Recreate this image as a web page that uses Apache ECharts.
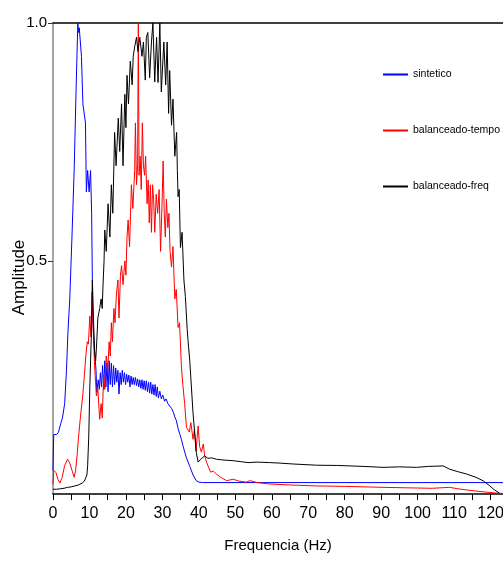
<!DOCTYPE html>
<html>
<head>
<meta charset="utf-8">
<script src="https://cdn.jsdelivr.net/npm/echarts@6/dist/echarts.min.js"></script>
<style>
  html, body { margin: 0; padding: 0; background: #fff; }
  #chart { width: 503px; height: 562px; }
</style>
</head>
<body>
<div id="chart"></div>
<script>
// [frequencia (Hz), amplitude]
var sintetico = [
  [0, 0.06], [0.2, 0.135], [1, 0.135], [1.5, 0.14], [2.2, 0.16], [2.6, 0.17], [3.2, 0.2],
  [3.7, 0.27], [4.1, 0.35], [4.6, 0.42], [5.2, 0.55], [5.8, 0.69], [6.3, 0.85], [6.8, 1.0],
  [7.0, 0.98], [7.2, 0.99], [7.5, 0.96], [7.8, 0.93], [8.2, 0.83], [8.9, 0.79], [9.15, 0.645],
  [9.5, 0.69], [9.9, 0.645], [10.3, 0.69], [10.6, 0.6], [10.9, 0.377], [11.4, 0.31], [11.8, 0.27],
  [12.0, 0.224], [12.4, 0.25], [12.7, 0.23], [13.0, 0.265], [13.3, 0.235], [13.6, 0.28],
  [13.9, 0.23], [14.2, 0.29], [14.5, 0.235], [14.8, 0.285], [15.1, 0.225], [15.4, 0.29],
  [15.7, 0.24], [16.0, 0.285], [16.3, 0.235], [16.6, 0.28], [16.9, 0.24], [17.2, 0.275],
  [17.5, 0.245], [17.8, 0.27], [18.1, 0.22], [18.4, 0.265], [18.7, 0.24], [19.0, 0.27],
  [19.3, 0.245], [19.6, 0.265], [19.9, 0.24], [20.2, 0.262], [20.5, 0.245], [20.8, 0.26],
  [21.1, 0.235], [21.4, 0.258], [21.7, 0.24], [22.0, 0.255], [22.3, 0.24], [22.6, 0.255],
  [22.9, 0.238], [23.2, 0.252], [23.5, 0.235], [23.8, 0.25], [24.1, 0.232], [24.4, 0.25],
  [24.7, 0.23], [25.0, 0.248], [25.3, 0.228], [25.6, 0.248], [25.9, 0.225], [26.2, 0.245],
  [26.5, 0.222], [26.8, 0.245], [27.1, 0.22], [27.4, 0.24], [27.7, 0.218], [28.0, 0.24],
  [28.3, 0.215], [28.6, 0.235], [28.9, 0.212], [29.3, 0.226], [29.7, 0.21], [30.1, 0.218],
  [30.6, 0.205], [31.0, 0.21], [31.5, 0.2], [32.0, 0.2], [32.5, 0.19], [33.0, 0.182],
  [33.4, 0.172], [33.8, 0.165], [34.3, 0.148], [34.8, 0.135], [35.2, 0.125], [35.7, 0.11],
  [36.5, 0.088], [37.5, 0.068], [38.4, 0.05], [39.3, 0.038], [40.0, 0.035], [41, 0.034],
  [123.4, 0.034]
];

var balanceadoTempo = [
  [0, 0.03], [0.2, 0.06], [0.8, 0.055], [1.4, 0.04], [1.9, 0.033], [2.5, 0.045], [3.2, 0.07],
  [4.0, 0.083], [4.6, 0.075], [5.2, 0.06], [5.8, 0.045], [6.2, 0.06], [6.6, 0.09], [7.0, 0.13],
  [7.5, 0.17], [8.2, 0.22], [8.6, 0.26], [9.0, 0.3], [9.4, 0.33], [9.7, 0.325], [10.1, 0.384],
  [10.4, 0.34], [10.7, 0.435], [11.0, 0.36], [11.4, 0.28], [11.9, 0.216], [12.3, 0.23],
  [12.8, 0.167], [13.2, 0.2], [13.5, 0.17], [13.9, 0.26], [14.2, 0.23], [14.6, 0.3],
  [15.0, 0.27], [15.4, 0.33], [15.7, 0.3], [16.0, 0.37], [16.3, 0.33], [16.7, 0.4],
  [17.0, 0.37], [17.4, 0.43], [17.8, 0.46], [18.1, 0.38], [18.5, 0.47], [18.8, 0.49],
  [19.2, 0.45], [19.7, 0.5], [20.0, 0.47], [20.3, 0.55], [20.6, 0.586], [21.0, 0.53],
  [21.5, 0.66], [21.9, 0.61], [22.4, 0.69], [22.6, 0.79], [22.9, 0.66], [23.2, 0.7],
  [23.4, 1.0], [23.6, 0.68], [23.9, 0.72], [24.2, 0.65], [24.5, 0.79], [24.8, 0.7],
  [25.1, 0.68], [25.4, 0.72], [25.8, 0.62], [26.1, 0.67], [26.4, 0.58], [26.7, 0.66],
  [27.0, 0.56], [27.3, 0.66], [27.6, 0.63], [27.9, 0.56], [28.3, 0.64], [28.7, 0.6],
  [29.1, 0.65], [29.5, 0.52], [29.9, 0.62], [30.2, 0.71], [30.5, 0.6], [30.8, 0.55],
  [31.1, 0.63], [31.5, 0.57], [31.8, 0.6], [32.1, 0.52], [32.5, 0.487], [32.9, 0.53],
  [33.4, 0.42], [33.8, 0.44], [34.3, 0.36], [34.7, 0.37], [35.2, 0.28], [35.6, 0.24],
  [36.1, 0.2], [36.6, 0.15], [37.0, 0.153], [37.4, 0.14], [37.8, 0.16], [38.4, 0.125],
  [38.8, 0.146], [39.2, 0.1], [39.8, 0.153], [40.2, 0.11], [40.7, 0.098], [41.2, 0.115],
  [41.6, 0.09], [42.1, 0.077], [43.2, 0.056], [44.0, 0.058], [44.8, 0.052], [46, 0.045],
  [47.6, 0.038], [49.4, 0.041], [51, 0.037], [53, 0.035], [54, 0.038], [56, 0.034],
  [59.4, 0.031], [65, 0.029], [72, 0.027], [80, 0.026], [90.5, 0.024], [97, 0.023],
  [104, 0.022], [108.8, 0.024], [111, 0.021], [114, 0.018], [118, 0.0145], [121.6, 0.012],
  [123.4, 0.011]
];

var balanceadoFreq = [
  [0, 0.02], [1, 0.02], [2, 0.021], [3, 0.022], [4, 0.024], [5, 0.025], [6, 0.027], [7, 0.029],
  [8, 0.033], [8.6, 0.037], [9.0, 0.041], [9.3, 0.05], [9.5, 0.07], [9.8, 0.13], [10.1, 0.236],
  [10.5, 0.34], [10.8, 0.46], [11.1, 0.38], [11.4, 0.31], [11.7, 0.29], [12.0, 0.33],
  [12.3, 0.38], [12.8, 0.4], [13.2, 0.42], [13.5, 0.4], [13.7, 0.446], [14.0, 0.5],
  [14.2, 0.565], [14.6, 0.52], [15.1, 0.62], [15.6, 0.55], [16.0, 0.66], [16.4, 0.6],
  [16.9, 0.77], [17.3, 0.7], [17.9, 0.8], [18.3, 0.73], [18.8, 0.83], [19.2, 0.7],
  [19.7, 0.85], [20.0, 0.78], [20.3, 0.89], [20.7, 0.83], [21.2, 0.92], [21.7, 0.87],
  [22.0, 0.93], [22.4, 0.95], [22.9, 0.97], [23.3, 0.94], [23.8, 0.97], [24.4, 0.93],
  [24.8, 0.96], [25.3, 0.88], [25.6, 0.97], [26.0, 0.98], [26.5, 0.885], [27.0, 0.96],
  [27.4, 1.0], [27.9, 0.876], [28.4, 0.97], [28.8, 0.875], [29.3, 1.0], [29.7, 0.855],
  [30.4, 0.96], [30.9, 0.87], [31.3, 0.96], [31.7, 0.81], [32.0, 0.9], [32.5, 0.785],
  [32.9, 0.84], [33.4, 0.72], [33.9, 0.77], [34.1, 0.69], [34.3, 0.635], [34.6, 0.65],
  [34.95, 0.528], [35.4, 0.56], [35.9, 0.46], [36.3, 0.425], [36.8, 0.356], [37.0, 0.335],
  [37.5, 0.29], [38.4, 0.18], [39.3, 0.097], [39.8, 0.077], [40.5, 0.083], [41.0, 0.08],
  [41.6, 0.09], [42.5, 0.085], [43.5, 0.086], [44.8, 0.083], [46, 0.082], [47.5, 0.081],
  [49.4, 0.08], [51.5, 0.078], [53.5, 0.076], [56, 0.077], [59.4, 0.076], [62, 0.075],
  [66, 0.073], [72.3, 0.0705], [78, 0.07], [85, 0.068], [90.5, 0.066], [95, 0.067],
  [99.7, 0.066], [103, 0.068], [107, 0.069], [108.8, 0.062], [111, 0.057], [113.4, 0.052],
  [116, 0.045], [118, 0.0376], [119.8, 0.027], [121, 0.019], [122.4, 0.012]
];

var xTicks = [0, 5, 10, 15, 20, 25, 30, 35, 40, 45, 50, 55, 60, 65, 70, 75, 80, 85, 90, 95, 100, 105, 110, 115, 120];
var xLabels = [0, 10, 20, 30, 40, 50, 60, 70, 80, 90, 100, 110, 120];
var yLabels = [0.5, 1.0];

var font = '"Liberation Sans", Arial, sans-serif';

var chart = echarts.init(document.getElementById('chart'));

chart.setOption({
  animation: false,
  backgroundColor: '#fff',
  grid: { left: 53, right: 0, top: 23, bottom: 68, containLabel: false, outerBoundsMode: 'none' },
  legend: {
    orient: 'vertical',
    left: 378,
    top: 64,
    itemWidth: 25,
    itemHeight: 2,
    itemGap: 45,
    icon: 'rect',
    textStyle: { fontFamily: font, fontSize: 10.5, color: '#000' },
    data: ['sintetico', 'balanceado-tempo', 'balanceado-freq']
  },
  xAxis: [{
    type: 'value',
    min: 0,
    max: 123.4,
    name: 'Frequencia (Hz)',
    nameLocation: 'middle',
    nameGap: 44,
    nameMoveOverlap: false,
    nameTextStyle: { fontFamily: font, fontSize: 15, color: '#000' },
    axisLine: { show: true, onZero: false, lineStyle: { color: '#000', width: 1.5 } },
    axisTick: { show: true, customValues: xTicks, length: 6, lineStyle: { color: '#000' } },
    axisLabel: { customValues: xLabels, fontFamily: font, fontSize: 16, color: '#000', margin: 12 },
    splitLine: { show: false }
  }, {
    type: 'value',
    position: 'top',
    min: 0,
    max: 123.4,
    axisLine: { show: true, onZero: false, lineStyle: { color: '#000', width: 1.5 } },
    axisTick: { show: false },
    axisLabel: { show: false },
    splitLine: { show: false }
  }],
  yAxis: {
    type: 'value',
    min: 0.01,
    max: 1.0,
    name: 'Amplitude',
    nameLocation: 'middle',
    nameGap: 25,
    nameMoveOverlap: false,
    nameTextStyle: { fontFamily: font, fontSize: 17, color: '#000', padding: [0, 38, 0, 0] },
    axisLine: { show: true, onZero: false, lineStyle: { color: '#888', width: 1.5 } },
    axisTick: { show: true, customValues: yLabels, length: 5, lineStyle: { color: '#333' } },
    axisLabel: {
      customValues: yLabels,
      fontFamily: font,
      fontSize: 15,
      color: '#000',
      margin: 6,
      formatter: function (v) { return v.toFixed(1); }
    },
    splitLine: { show: false }
  },
  series: [{
    name: 'sintetico',
    type: 'line',
    showSymbol: false,
    symbol: 'none',
    color: '#0000ff',
    lineStyle: { width: 1, color: '#0000ff' },
    data: sintetico
  }, {
    name: 'balanceado-tempo',
    type: 'line',
    showSymbol: false,
    symbol: 'none',
    color: '#ff0000',
    lineStyle: { width: 1, color: '#ff0000' },
    data: balanceadoTempo
  }, {
    name: 'balanceado-freq',
    type: 'line',
    showSymbol: false,
    symbol: 'none',
    color: '#000000',
    lineStyle: { width: 1, color: '#000000' },
    data: balanceadoFreq
  }]
});
</script>
</body>
</html>
